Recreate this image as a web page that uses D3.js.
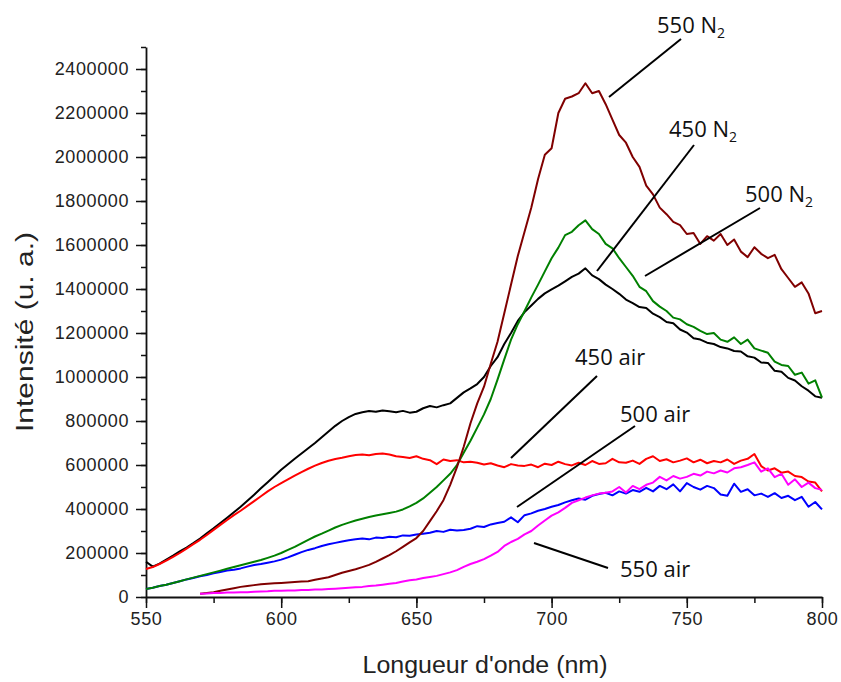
<!DOCTYPE html>
<html>
<head>
<meta charset="utf-8">
<script src="https://cdn.jsdelivr.net/npm/d3@7"></script>
<style>
  html, body { margin: 0; padding: 0; background: #fff; }
  svg { display: block; }
</style>
</head>
<body>
<svg id="chart" width="841" height="682"></svg>
<script>
// Wavelength grid (nm), 550 → 800 every 2.5 nm
const wavelengths = d3.range(550, 800.001, 2.5);

// Intensities in thousands (u. a. ×1000), one value per wavelength
const n2_450 = [
  160,138,152,170,188,207,225,245,266,290,
  312,336,360,385,410,437,465,494,522,550,
  578,603,628,652,676,700,726,752,778,800,
  818,832,840,845,842,848,844,840,846,838,
  842,858,868,862,872,880,905,930,948,968,
  1000,1050,1090,1150,1200,1255,1295,1325,1355,1380,
  1398,1415,1435,1455,1470,1494,1462,1445,1420,1400,
  1378,1352,1336,1318,1314,1288,1272,1250,1244,1216,
  1202,1176,1170,1156,1150,1136,1130,1118,1116,1094,
  1088,1066,1064,1028,1024,996,984,958,938,912,
  906
];
const air_450 = [
  127,136,150,165,182,200,220,240,260,282,
  305,328,350,372,392,414,436,458,480,500,
  518,535,552,568,583,597,609,619,627,633,
  640,645,648,644,650,652,648,640,636,632,
  640,628,622,604,625,618,622,612,615,610,
  602,608,598,590,604,598,596,602,590,606,
  600,615,604,598,610,600,618,605,608,628,
  612,610,620,605,628,640,618,626,612,620,
  630,612,624,608,618,612,625,605,620,628,
  650,595,575,585,565,570,550,545,525,520,
  480
];
const air_500 = [
  36,42,50,56,64,72,80,86,94,100,
  108,114,120,124,130,138,145,150,156,162,
  170,180,192,204,214,222,232,240,246,252,
  258,262,266,262,270,268,274,272,280,278,
  284,288,292,300,296,306,302,305,310,322,
  318,330,336,342,362,340,372,380,392,400,
  410,418,430,440,448,442,460,468,474,462,
  480,470,486,478,496,480,505,490,512,480,
  518,500,488,505,495,466,460,515,478,490,
  462,470,455,472,450,460,440,455,410,432,
  398
];
const n2_500 = [
  36,42,50,56,64,72,80,88,96,104,
  112,120,128,136,144,152,160,168,178,188,
  200,214,228,244,260,275,288,302,316,328,
  338,348,356,364,370,376,382,388,398,412,
  428,448,474,500,530,560,600,656,710,770,
  830,900,988,1080,1170,1240,1300,1362,1420,1480,
  1540,1588,1645,1660,1690,1712,1672,1650,1605,1585,
  1540,1500,1460,1410,1390,1345,1320,1300,1270,1262,
  1240,1228,1210,1195,1200,1170,1160,1180,1150,1170,
  1130,1120,1110,1070,1055,1050,1010,1020,970,985,
  906
];
const n2_550 = [
  null,null,null,null,null,null,null,null,15,18,
  22,28,34,40,46,50,54,58,60,62,
  64,66,68,70,72,78,84,90,100,110,
  118,126,136,146,160,175,190,208,228,248,
  268,300,345,390,440,510,590,683,790,880,
  956,1060,1160,1290,1420,1550,1660,1770,1900,2010,
  2040,2200,2265,2275,2290,2335,2290,2300,2240,2170,
  2100,2065,2000,1955,1870,1830,1770,1740,1705,1690,
  1650,1655,1605,1640,1620,1650,1600,1625,1570,1545,
  1590,1560,1540,1555,1490,1450,1410,1430,1380,1290,
  1300
];
const air_550 = [
  null,null,null,null,null,null,null,null,15,16,
  18,18,20,20,22,22,24,25,26,28,
  28,30,30,32,32,34,34,36,38,40,
  42,44,46,50,52,56,60,64,70,76,
  80,86,91,96,104,112,122,137,150,160,
  172,188,205,232,250,264,285,300,325,348,
  370,385,405,428,440,452,462,470,474,480,
  500,475,505,490,510,520,546,530,550,538,
  546,560,552,570,562,575,566,585,590,600,
  612,570,585,545,560,510,535,500,520,495,
  487
];

const seriesNames  = ["450 N2", "450 air", "500 air", "500 N2", "550 N2", "550 air"];
const seriesValues = [n2_450, air_450, air_500, n2_500, n2_550, air_550];
const seriesColors = ["#000000", "#ff0000", "#0000ff", "#008000", "#800000", "#ff00ff"];

const xTicks = [550, 600, 650, 700, 750, 800];
const xMinorTicks = d3.range(550, 801, 25);
const yTicks = d3.range(0, 2400001, 200000);
const yMinorTicks = d3.range(0, 2500001, 100000);

// Annotation labels: [main text, subscript, text x, baseline y, line x1, y1, x2, y2]
const labels = [
  ["550 N", "2", 657, 33, 681, 39, 609, 97],
  ["450 N", "2", 669, 137, 694, 145, 597, 271],
  ["500 N", "2", 745, 202, 760, 208, 645, 276],
  ["450 air", "", 575, 365, 597, 376, 511, 458],
  ["500 air", "", 620, 422, 635, 426, 517, 507],
  ["550 air", "", 620, 577, 608, 568, 534, 543]
];

const svg = d3.select("#chart");
const x = d3.scaleLinear().domain([550, 800]).range([146, 822]);
const y = d3.scaleLinear().domain([0, 2500000]).range([597, 47]);

const tickFont = "'Liberation Sans', Arial, sans-serif";

// minor ticks
svg.append("g").attr("transform", "translate(0,597)")
  .call(d3.axisBottom(x).tickValues(xMinorTicks).tickSize(6).tickSizeOuter(0).tickFormat(""))
  .call(g => g.select(".domain").remove())
  .selectAll("line").attr("stroke", "#111").attr("stroke-width", 1.5);
svg.append("g").attr("transform", "translate(146,0)")
  .call(d3.axisLeft(y).tickValues(yMinorTicks).tickSize(5).tickSizeOuter(0).tickFormat(""))
  .call(g => g.select(".domain").remove())
  .selectAll("line").attr("stroke", "#111").attr("stroke-width", 1.5);

// major axes
const xAxis = svg.append("g").attr("transform", "translate(0,597)")
  .call(d3.axisBottom(x).tickValues(xTicks).tickSize(11).tickSizeOuter(0).tickPadding(4).tickFormat(d3.format("d")));
const yAxis = svg.append("g").attr("transform", "translate(146,0)")
  .call(d3.axisLeft(y).tickValues(yTicks).tickSize(10).tickSizeOuter(0).tickPadding(7).tickFormat(d3.format("d")));

[xAxis, yAxis].forEach(g => {
  g.select(".domain").attr("stroke", "#111").attr("stroke-width", 1.8);
  g.selectAll(".tick line").attr("stroke", "#111").attr("stroke-width", 1.5);
  g.selectAll(".tick text")
    .attr("fill", "#222")
    .style("font-family", tickFont)
    .style("font-size", "18px")
    .style("letter-spacing", "0.6px");
});

// curves
const line = d3.line()
  .defined(d => d[1] !== null)
  .x(d => x(d[0]))
  .y(d => y(d[1] * 1000));

seriesValues.forEach((vals, i) => {
  svg.append("path")
    .datum(wavelengths.map((w, j) => [w, vals[j]]))
    .attr("fill", "none")
    .attr("stroke", seriesColors[i])
    .attr("stroke-width", 2)
    .attr("stroke-linejoin", "round")
    .attr("d", line)
    .append("title").text(seriesNames[i]);
});

// axis titles
svg.append("text")
  .attr("x", 485).attr("y", 673)
  .attr("text-anchor", "middle")
  .attr("fill", "#222")
  .attr("textLength", 245).attr("lengthAdjust", "spacingAndGlyphs")
  .style("font-family", tickFont).style("font-size", "23px")
  .text("Longueur d'onde (nm)");

svg.append("text")
  .attr("transform", "translate(33,332) rotate(-90)")
  .attr("text-anchor", "middle")
  .attr("fill", "#222")
  .attr("textLength", 200).attr("lengthAdjust", "spacingAndGlyphs")
  .style("font-family", tickFont).style("font-size", "23px")
  .text("Intensité (u. a.)");

// annotations
const annFont = "'Open Sans', 'Noto Sans', sans-serif";
labels.forEach(l => {
  svg.append("line")
    .attr("x1", l[4]).attr("y1", l[5]).attr("x2", l[6]).attr("y2", l[7])
    .attr("stroke", "#000").attr("stroke-width", 2);
  const t = svg.append("text")
    .attr("x", l[2]).attr("y", l[3])
    .attr("fill", "#111")
    .style("font-family", annFont).style("font-size", "22px");
  t.append("tspan").text(l[0]);
  if (l[1]) {
    t.append("tspan").attr("dy", 5).style("font-size", "14px").text(l[1]);
  }
});
</script>
</body>
</html>
